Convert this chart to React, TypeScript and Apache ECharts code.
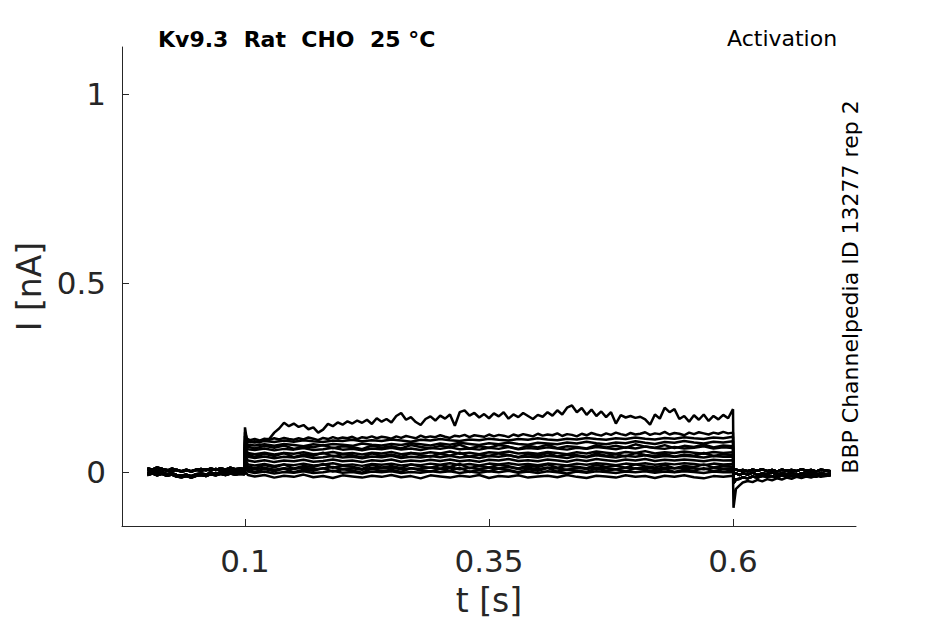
import React, { useEffect, useRef } from "react";
import * as echarts from "echarts";

// ---------- tick labels ----------
const X_TICKS = [0.1, 0.35, 0.6];
const Y_TICKS = [0, 0.5, 1];

// ---------- sampling times ----------
const range = (a: number, b: number, s: number) => {
  const out: number[] = [];
  const n = Math.round((b - a) / s);
  for (let i = 0; i <= n; i++) out.push(Math.round((a + i * s) * 10000) / 10000);
  return out;
};
const PRE_T = [...range(0, 0.095, 0.005), 0.0995];
const STEP_T = [0.1, 0.103, ...range(0.11, 0.6, 0.01)];
const STEP_T_FINE = [0.1, 0.102, ...range(0.105, 0.6, 0.005)];
const POST_T = [0.6005, 0.603, 0.607, ...range(0.61, 0.7, 0.005)];

// ---------- pre-step baselines (nA) ----------
const PRE_A = [0.004, 0.007, 0.003, 0.008, 0.005, 0.002, 0.006, 0.001, 0.004, 0.002, 0.006, 0.003, 0.007, 0.004, 0.008, 0.005, 0.003, 0.007, 0.004, 0.006, 0.005];
const PRE_B = [-0.003, 0.001, -0.004, 0.0, -0.006, -0.003, -0.008, -0.010, -0.007, -0.011, -0.006, -0.004, -0.007, -0.002, -0.005, -0.001, -0.004, 0.0, -0.003, -0.001, -0.002];
const PRE_C = [-0.008, -0.004, -0.009, -0.005, -0.010, -0.007, -0.012, -0.014, -0.011, -0.015, -0.010, -0.008, -0.011, -0.006, -0.009, -0.005, -0.008, -0.004, -0.007, -0.005, -0.006];
const PRE_D = [0.010, 0.006, 0.012, 0.008, 0.003, 0.009, 0.004, 0.002, 0.006, 0.001, 0.005, 0.008, 0.004, 0.009, 0.005, 0.010, 0.006, 0.011, 0.007, 0.009, 0.008];

// ---------- post-step tails (nA) ----------
const POST_A = [0.004, 0.006, 0.003, 0.005, 0.002, 0.006, 0.003, 0.007, 0.002, 0.005, 0.001, 0.006, 0.003, 0.005, 0.002, 0.007, 0.003, 0.005, 0.001, 0.006, 0.004, 0.002];
const POST_B = [-0.006, -0.004, -0.008, -0.003, -0.007, -0.002, -0.008, -0.004, -0.006, -0.001, -0.007, -0.003, -0.006, -0.002, -0.008, -0.004, -0.005, -0.001, -0.007, -0.003, -0.006, -0.004];
const POST_C = [-0.095, -0.045, -0.035, -0.028, -0.024, -0.027, -0.021, -0.025, -0.019, -0.022, -0.017, -0.020, -0.015, -0.018, -0.013, -0.016, -0.012, -0.015, -0.010, -0.013, -0.011, -0.009];
const POST_D = [-0.030, -0.020, -0.018, -0.014, -0.017, -0.012, -0.015, -0.010, -0.013, -0.011, -0.014, -0.009, -0.012, -0.010, -0.013, -0.008, -0.011, -0.009, -0.012, -0.007, -0.010, -0.008];

// ---------- step currents (nA) ----------
const TRACE_1 = [0.118, 0.082,
  0.079, 0.081, 0.078, 0.086, 0.088, 0.104, 0.115, 0.130, 0.121, 0.128,
  0.119, 0.124, 0.113, 0.118, 0.104, 0.112, 0.127, 0.121, 0.131, 0.125,
  0.134, 0.128, 0.136, 0.130, 0.138, 0.127, 0.142, 0.133, 0.140, 0.131,
  0.148, 0.156, 0.138, 0.145, 0.132, 0.124, 0.140, 0.147, 0.136, 0.149,
  0.141, 0.152, 0.122, 0.158, 0.163, 0.149, 0.156, 0.144, 0.153, 0.142,
  0.155, 0.147, 0.158, 0.141, 0.152, 0.145, 0.156, 0.148, 0.140, 0.151,
  0.146, 0.158, 0.149, 0.163, 0.152, 0.170, 0.176, 0.158, 0.169, 0.151,
  0.165, 0.148, 0.160, 0.145, 0.158, 0.128, 0.150, 0.144, 0.148, 0.143,
  0.146, 0.139, 0.125, 0.152, 0.141, 0.170, 0.158, 0.166, 0.140, 0.148,
  0.133, 0.150, 0.138, 0.152, 0.135, 0.148, 0.139, 0.151, 0.142, 0.166];
const TRACE_2 = [0.105, 0.088,
  0.084, 0.087, 0.083, 0.088, 0.085, 0.089, 0.086, 0.090, 0.087, 0.085,
  0.089, 0.086, 0.091, 0.088, 0.084, 0.090, 0.087, 0.092, 0.088, 0.091,
  0.089, 0.093, 0.087, 0.092, 0.090, 0.094, 0.089, 0.093, 0.091, 0.088,
  0.094, 0.090, 0.095, 0.092, 0.089, 0.096, 0.091, 0.094, 0.092, 0.097,
  0.093, 0.090, 0.096, 0.094, 0.098, 0.092, 0.097, 0.095, 0.093, 0.099,
  0.094, 0.098, 0.096, 0.092, 0.099, 0.095, 0.100, 0.097, 0.094, 0.101,
  0.096, 0.099, 0.097, 0.102, 0.095, 0.100, 0.098, 0.094, 0.101, 0.097,
  0.103, 0.099, 0.096, 0.102, 0.098, 0.104, 0.100, 0.097, 0.103, 0.099,
  0.101, 0.105, 0.098, 0.102, 0.100, 0.106, 0.099, 0.103, 0.101, 0.097,
  0.104, 0.100, 0.105, 0.102, 0.099, 0.104, 0.101, 0.106, 0.102, 0.104];
const TRACE_3 = [0.095, 0.080,
  0.078, 0.082, 0.079, 0.083, 0.080, 0.084, 0.081, 0.079, 0.083, 0.082,
  0.085, 0.081, 0.084, 0.082, 0.086, 0.083, 0.080, 0.085, 0.083, 0.087,
  0.084, 0.082, 0.086, 0.084, 0.088, 0.085, 0.083, 0.087, 0.085, 0.089,
  0.086, 0.084, 0.088, 0.086, 0.090, 0.087, 0.085, 0.089, 0.087, 0.091,
  0.088, 0.086, 0.090, 0.088, 0.092, 0.089, 0.087, 0.091, 0.089, 0.093];
const TRACE_4 = [0.085, 0.072,
  0.070, 0.073, 0.069, 0.074, 0.071, 0.068, 0.073, 0.070, 0.074, 0.072,
  0.069, 0.075, 0.072, 0.070, 0.074, 0.071, 0.076, 0.073, 0.070, 0.075,
  0.072, 0.077, 0.074, 0.071, 0.076, 0.073, 0.078, 0.074, 0.072, 0.077,
  0.075, 0.073, 0.078, 0.075, 0.080, 0.076, 0.073, 0.078, 0.076, 0.081,
  0.077, 0.074, 0.079, 0.077, 0.082, 0.078, 0.075, 0.080, 0.078, 0.081];
const TRACE_5 = [0.075, 0.060,
  0.058, 0.062, 0.057, 0.061, 0.059, 0.063, 0.058, 0.060, 0.064, 0.059,
  0.061, 0.057, 0.062, 0.060, 0.064, 0.059, 0.062, 0.058, 0.063, 0.061,
  0.065, 0.060, 0.062, 0.059, 0.064, 0.061, 0.066, 0.060, 0.063, 0.061,
  0.065, 0.062, 0.059, 0.064, 0.061, 0.066, 0.063, 0.060, 0.065, 0.062,
  0.067, 0.063, 0.061, 0.066, 0.062, 0.064, 0.068, 0.062, 0.065, 0.063];
const TRACE_6 = [0.065, 0.050,
  0.047, 0.051, 0.046, 0.050, 0.048, 0.052, 0.047, 0.049, 0.053, 0.048,
  0.050, 0.046, 0.051, 0.049, 0.053, 0.047, 0.050, 0.048, 0.052, 0.049,
  0.054, 0.048, 0.051, 0.047, 0.052, 0.050, 0.054, 0.049, 0.051, 0.048,
  0.053, 0.050, 0.047, 0.052, 0.049, 0.054, 0.051, 0.048, 0.053, 0.050,
  0.055, 0.049, 0.052, 0.050, 0.054, 0.051, 0.048, 0.053, 0.050, 0.052];
const TRACE_7 = [0.055, 0.040,
  0.037, 0.041, 0.036, 0.040, 0.038, 0.042, 0.037, 0.039, 0.043, 0.038,
  0.040, 0.036, 0.041, 0.039, 0.043, 0.037, 0.040, 0.038, 0.042, 0.039,
  0.043, 0.038, 0.041, 0.037, 0.042, 0.040, 0.044, 0.039, 0.041, 0.038,
  0.043, 0.040, 0.037, 0.042, 0.039, 0.044, 0.041, 0.038, 0.043, 0.040,
  0.044, 0.039, 0.042, 0.040, 0.043, 0.041, 0.038, 0.042, 0.040, 0.041];
const TRACE_8 = [0.045, 0.030,
  0.027, 0.031, 0.026, 0.030, 0.028, 0.032, 0.027, 0.029, 0.033, 0.028,
  0.030, 0.026, 0.031, 0.029, 0.033, 0.027, 0.030, 0.028, 0.032, 0.029,
  0.033, 0.028, 0.031, 0.027, 0.032, 0.030, 0.034, 0.029, 0.031, 0.028,
  0.033, 0.030, 0.027, 0.032, 0.029, 0.034, 0.031, 0.028, 0.033, 0.030,
  0.034, 0.029, 0.032, 0.030, 0.033, 0.031, 0.028, 0.032, 0.030, 0.031];
const TRACE_9 = [0.035, 0.020,
  0.017, 0.021, 0.016, 0.020, 0.018, 0.022, 0.017, 0.019, 0.023, 0.018,
  0.020, 0.016, 0.021, 0.019, 0.022, 0.017, 0.020, 0.018, 0.022, 0.019,
  0.023, 0.018, 0.021, 0.017, 0.022, 0.020, 0.023, 0.019, 0.021, 0.018,
  0.022, 0.020, 0.017, 0.022, 0.019, 0.023, 0.021, 0.018, 0.022, 0.020,
  0.023, 0.019, 0.022, 0.020, 0.023, 0.021, 0.018, 0.022, 0.020, 0.021];
const TRACE_10 = [0.025, 0.010,
  0.007, 0.011, 0.006, 0.010, 0.008, 0.012, 0.007, 0.009, 0.013, 0.008,
  0.010, 0.006, 0.011, 0.009, 0.012, 0.007, 0.010, 0.008, 0.012, 0.009,
  0.012, 0.007, 0.011, 0.008, 0.012, 0.009, 0.013, 0.008, 0.011, 0.007,
  0.012, 0.009, 0.006, 0.011, 0.008, 0.012, 0.010, 0.007, 0.011, 0.009,
  0.012, 0.008, 0.011, 0.009, 0.012, 0.010, 0.007, 0.011, 0.009, 0.010];
const TRACE_11 = [0.012, 0.001,
  -0.003, 0.001, -0.004, 0.000, -0.002, 0.002, -0.003, -0.001, 0.003, -0.002,
  0.000, -0.004, 0.001, -0.001, 0.002, -0.003, 0.000, -0.002, 0.002, -0.001,
  0.002, -0.003, 0.001, -0.002, 0.002, -0.001, 0.003, -0.002, 0.001, -0.003,
  0.002, -0.001, -0.004, 0.001, -0.002, 0.002, 0.000, -0.003, 0.001, -0.001,
  0.002, -0.002, 0.001, -0.001, 0.002, 0.000, -0.003, 0.001, -0.001, 0.000];
const TRACE_12 = [0.002, -0.008,
  -0.012, -0.008, -0.015, -0.010, -0.013, -0.007, -0.014, -0.011, -0.016, -0.009,
  -0.012, -0.015, -0.010, -0.013, -0.008, -0.014, -0.011, -0.017, -0.009, -0.012,
  -0.015, -0.010, -0.013, -0.008, -0.016, -0.011, -0.013, -0.009, -0.015, -0.012,
  -0.010, -0.014, -0.008, -0.013, -0.016, -0.010, -0.012, -0.015, -0.009, -0.013,
  -0.011, -0.016, -0.010, -0.013, -0.009, -0.014, -0.017, -0.011, -0.013, -0.010];
const TRACE_13 = [0.030, 0.015,
  0.010, 0.018, 0.012, 0.020, 0.009, 0.016, 0.013, 0.021, 0.011, 0.017,
  0.014, 0.008, 0.019, 0.012, 0.016, 0.010, 0.020, 0.014, 0.011, 0.018,
  0.013, 0.021, 0.010, 0.016, 0.012, 0.019, 0.015, 0.009, 0.017, 0.013,
  0.020, 0.011, 0.016, 0.014, 0.010, 0.019, 0.013, 0.017, 0.011, 0.020,
  0.015, 0.012, 0.018, 0.010, 0.016, 0.013, 0.020, 0.012, 0.017, 0.014];
const TRACE_14 = [0.060, 0.046,
  0.040, 0.048, 0.042, 0.050, 0.039, 0.046, 0.043, 0.051, 0.041, 0.047,
  0.044, 0.038, 0.049, 0.042, 0.046, 0.040, 0.050, 0.044, 0.041, 0.048,
  0.043, 0.051, 0.040, 0.046, 0.042, 0.049, 0.045, 0.039, 0.047, 0.043,
  0.050, 0.041, 0.046, 0.044, 0.040, 0.049, 0.043, 0.047, 0.041, 0.050,
  0.045, 0.042, 0.048, 0.040, 0.046, 0.043, 0.050, 0.042, 0.047, 0.044];
const TRACE_15 = [0.080, 0.067,
  0.062, 0.069, 0.064, 0.070, 0.061, 0.067, 0.065, 0.071, 0.063, 0.068,
  0.066, 0.060, 0.070, 0.064, 0.068, 0.062, 0.071, 0.066, 0.063, 0.069,
  0.065, 0.072, 0.062, 0.068, 0.064, 0.071, 0.067, 0.061, 0.069, 0.065,
  0.072, 0.063, 0.068, 0.066, 0.062, 0.071, 0.065, 0.069, 0.064, 0.073,
  0.067, 0.064, 0.071, 0.063, 0.069, 0.066, 0.073, 0.065, 0.070, 0.068];
const TRACE_16 = [0.020, 0.006,
  0.000, 0.008, 0.002, 0.009, -0.001, 0.006, 0.003, 0.010, 0.001, 0.007,
  0.004, -0.002, 0.009, 0.002, 0.006, 0.000, 0.010, 0.004, 0.001, 0.008,
  0.003, 0.011, 0.000, 0.006, 0.002, 0.009, 0.005, -0.001, 0.007, 0.003,
  0.010, 0.001, 0.006, 0.004, 0.000, 0.009, 0.003, 0.007, 0.001, 0.010,
  0.005, 0.002, 0.008, 0.000, 0.006, 0.003, 0.010, 0.002, 0.007, 0.004];

const TRACES = [
  { pre: PRE_D, step: TRACE_1, t: STEP_T_FINE, post: POST_A },
  { pre: PRE_A, step: TRACE_2, t: STEP_T_FINE, post: POST_B },
  { pre: PRE_B, step: TRACE_3, t: STEP_T, post: POST_A },
  { pre: PRE_C, step: TRACE_4, t: STEP_T, post: POST_D },
  { pre: PRE_D, step: TRACE_5, t: STEP_T, post: POST_B },
  { pre: PRE_A, step: TRACE_6, t: STEP_T, post: POST_A },
  { pre: PRE_B, step: TRACE_7, t: STEP_T, post: POST_D },
  { pre: PRE_C, step: TRACE_8, t: STEP_T, post: POST_B },
  { pre: PRE_D, step: TRACE_9, t: STEP_T, post: POST_A },
  { pre: PRE_A, step: TRACE_10, t: STEP_T, post: POST_D },
  { pre: PRE_B, step: TRACE_11, t: STEP_T, post: POST_B },
  { pre: PRE_C, step: TRACE_12, t: STEP_T, post: POST_C },
  { pre: PRE_B, step: TRACE_13, t: STEP_T, post: POST_A },
  { pre: PRE_A, step: TRACE_14, t: STEP_T, post: POST_B },
  { pre: PRE_D, step: TRACE_15, t: STEP_T, post: POST_D },
  { pre: PRE_C, step: TRACE_16, t: STEP_T, post: POST_A },
];

const FONT = '"DejaVu Sans", "Liberation Sans", sans-serif';
const INK = "#262626";

export default function App() {
  const ref = useRef<HTMLDivElement>(null);
  useEffect(() => {
    if (!ref.current) return;
    const chart = echarts.init(ref.current, undefined, { renderer: "svg" });
    const series = TRACES.map((tr, k) => ({
      type: "line",
      name: "trace" + (k + 1),
      showSymbol: false,
      symbol: "none",
      silent: true,
      lineStyle: { color: "#000", width: 2.5 },
      data: [
        ...tr.pre.map((v, i) => [PRE_T[i], v]),
        ...tr.step.map((v, i) => [tr.t[i], v]),
        ...tr.post.map((v, i) => [POST_T[i], v]),
      ],
    }));
    chart.setOption({
      animation: false,
      backgroundColor: "#fff",
      grid: { left: 122, right: 89, top: 47, bottom: 98 },
      xAxis: {
        type: "value",
        min: -0.026,
        max: 0.726,
        name: "t [s]",
        nameLocation: "middle",
        nameGap: 58,
        nameTextStyle: { fontFamily: FONT, fontSize: 33, color: INK },
        axisLine: { show: true, onZero: false, lineStyle: { color: INK, width: 1 } },
        axisTick: { show: true, inside: true, length: 7, customValues: X_TICKS, lineStyle: { color: INK } },
        axisLabel: { customValues: X_TICKS, fontFamily: FONT, fontSize: 31, color: INK, margin: 19 },
        splitLine: { show: false },
      },
      yAxis: {
        type: "value",
        min: -0.143,
        max: 1.124,
        name: "I [nA]",
        nameLocation: "middle",
        nameGap: 70,
        nameTextStyle: { fontFamily: FONT, fontSize: 33, color: INK },
        axisLine: { show: true, onZero: false, lineStyle: { color: INK, width: 1 } },
        axisTick: { show: true, inside: true, length: 7, customValues: Y_TICKS, lineStyle: { color: INK } },
        axisLabel: { customValues: Y_TICKS, fontFamily: FONT, fontSize: 31, color: INK, margin: 16 },
        splitLine: { show: false },
      },
      graphic: [
        {
          type: "text",
          x: 158,
          y: 39,
          style: {
            text: "Kv9.3  Rat  CHO  25 °C",
            font: `bold 22px ${FONT}`,
            fill: "#000",
            textAlign: "left",
            textVerticalAlign: "middle",
          },
        },
        {
          type: "text",
          x: 727,
          y: 38,
          style: {
            text: "Activation",
            font: `22px ${FONT}`,
            fill: "#000",
            textAlign: "left",
            textVerticalAlign: "middle",
          },
        },
        {
          type: "text",
          x: 850,
          y: 287,
          rotation: Math.PI / 2,
          style: {
            text: "BBP Channelpedia ID 13277 rep 2",
            font: `22px ${FONT}`,
            fill: "#000",
            textAlign: "center",
            textVerticalAlign: "middle",
          },
        },
      ],
      series,
    });
    return () => chart.dispose();
  }, []);
  return (
    <div
      ref={ref}
      style={{ position: "fixed", left: 0, top: 0, width: 945, height: 624, background: "#fff" }}
    />
  );
}
